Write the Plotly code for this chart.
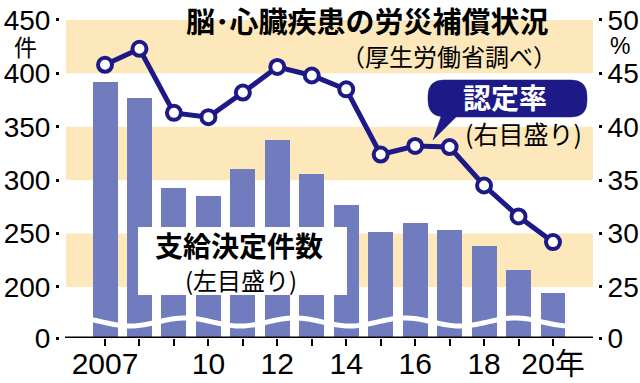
import numpy as np
import plotly.graph_objects as go

# ---------------- data ----------------
years = list(range(2007, 2021))
payments = [392, 377, 293, 285, 310, 338, 306, 277, 251, 260, 253, 238, 216, 194]      # 支給決定件数 (left)
rates = [45.8, 47.3, 41.3, 40.9, 43.2, 45.6, 44.8, 43.5, 37.4, 38.2, 38.1, 34.5, 31.6, 29.2]  # 認定率 % (right)
x_tick_labels = ["2007", "", "", "10", "", "12", "", "14", "", "16", "", "18", "", "20年"]
left_ticks = [0, 200, 250, 300, 350, 400, 450]
right_ticks = [0, 25, 30, 35, 40, 45, 50]
band_ranges = [(200, 250), (300, 350), (400, 450)]

# ---------------- layout geometry ----------------
W, H = 640, 383
ML, MR, MT, MB = 60, 42, 0, 45
PW, PH = W - ML - MR, H - MT - MB
ZERO_POS = 152.2          # where the broken axis draws "0"
PX_PER_UNIT = 1.068
Y_TOP = ZERO_POS + PH / PX_PER_UNIT
X_MIN, X_MAX = 2005.694, 2021.306


def lpos(v):
    return ZERO_POS if v == 0 else v


def rpos(r):
    return ZERO_POS / 10 + 5 if r == 0 else r


def px_x(x):
    return (x - ML) / PW


def px_y(y):
    return (MT + PH - y) / PH


def px_d(y):
    return ZERO_POS + (MT + PH - y) / PX_PER_UNIT


NAVY = "#1d1a88"
BAR = "#707cbe"
BAND = "#fce8ba"
JP = "Noto Sans CJK JP"
NUM = "Liberation Sans, Noto Sans CJK JP"

fig = go.Figure()

fig.add_trace(go.Bar(
    x=years, y=[v - ZERO_POS for v in payments], base=ZERO_POS,
    marker=dict(color=BAR, line=dict(width=0)), width=0.725,
    yaxis="y", hoverinfo="skip", showlegend=False))

fig.add_trace(go.Scatter(
    x=years, y=rates, yaxis="y2", mode="lines+markers",
    line=dict(color=NAVY, width=5),
    marker=dict(symbol="circle", size=14, color="white", line=dict(color=NAVY, width=4)),
    hoverinfo="skip", showlegend=False))

shapes = []
# horizontal bands
for lo, hi in band_ranges:
    shapes.append(dict(type="rect", xref="paper", yref="y", x0=px_x(66), x1=px_x(593),
                       y0=lo, y1=hi, fillcolor=BAND, line=dict(width=0), layer="below"))

# wavy break across the bars
wx = np.arange(66, 594, 2.0)
wy = 322 + 4 * np.cos(2 * np.pi * (wx - 130) / 110)
path = "M " + " L ".join(f"{px_x(a):.5f},{px_d(b):.3f}" for a, b in zip(wx, wy))
shapes.append(dict(type="path", xref="paper", yref="y", path=path,
                   line=dict(color="white", width=5), layer="above"))

# baseline
shapes.append(dict(type="line", xref="paper", yref="y", x0=px_x(65), x1=px_x(593),
                   y0=ZERO_POS, y1=ZERO_POS, line=dict(color="black", width=3), layer="above"))

# white label box for bars
shapes.append(dict(type="rect", xref="paper", yref="paper", x0=px_x(138), x1=px_x(347),
                   y0=px_y(295), y1=px_y(227), fillcolor="white", line=dict(width=0), layer="above"))

# callout for 認定率
pts = [("M", 444, 80), ("L", 571, 80), ("Q", 587, 80, 587, 96), ("L", 587, 101),
       ("Q", 587, 117, 571, 117), ("L", 456, 117), ("L", 433, 140), ("L", 441, 116.5),
       ("Q", 428, 115, 428, 100), ("L", 428, 96), ("Q", 428, 80, 444, 80)]
segs = []
for p in pts:
    cmd = p[0]
    coords = p[1:]
    cs = []
    for i in range(0, len(coords), 2):
        cs.append(f"{px_x(coords[i]):.5f},{px_y(coords[i+1]):.5f}")
    segs.append(cmd + " " + " ".join(cs))
shapes.append(dict(type="path", xref="paper", yref="paper", path=" ".join(segs) + " Z",
                   fillcolor=NAVY, line=dict(color=NAVY, width=0.5), layer="above"))

annotations = []


def ann(text, x, y, size, color="black", weight="normal", family=JP):
    annotations.append(dict(text=text, x=px_x(x), y=px_y(y), xref="paper", yref="paper",
                            xanchor="center", yanchor="middle", showarrow=False,
                            font=dict(family=family, size=size, color=color, weight=weight)))


ann("脳･心臓疾患の労災補償状況", 367, 20, 29, weight="bold")
ann("（厚生労働省調べ）", 449, 56, 24)
ann("認定率", 505, 97.5, 28, color="white", weight="bold")
ann("(右目盛り)", 523, 133, 25)
ann("支給決定件数", 239, 244.5, 28, weight="bold")
ann("(左目盛り)", 241, 279, 24)
ann("件", 25, 46, 23)
ann("%", 620, 46, 23, family=NUM)

fig.update_layout(
    width=W, height=H, margin=dict(l=ML, r=MR, t=MT, b=MB, autoexpand=False),
    plot_bgcolor="white", paper_bgcolor="white",
    shapes=shapes, annotations=annotations, bargap=0,
    xaxis=dict(range=[X_MIN, X_MAX], tickvals=years, ticktext=x_tick_labels,
               ticks="outside", ticklen=7, tickwidth=2, tickcolor="black",
               showgrid=False, zeroline=False, showline=False,
               tickfont=dict(family=NUM, size=30, color="black")),
    yaxis=dict(range=[ZERO_POS, Y_TOP], tickvals=[lpos(v) for v in left_ticks],
               ticktext=[str(v) for v in left_ticks],
               ticks="outside", ticklen=3, tickwidth=3, tickcolor="black",
               showgrid=False, zeroline=False, showline=False,
               tickfont=dict(family=NUM, size=28, color="black")),
    yaxis2=dict(range=[ZERO_POS / 10 + 5, Y_TOP / 10 + 5], overlaying="y", side="right",
                tickvals=[rpos(v) for v in right_ticks], ticktext=[str(v) for v in right_ticks],
                ticks="outside", ticklen=3, tickwidth=3, tickcolor="black",
                showgrid=False, zeroline=False, showline=False,
                tickfont=dict(family=NUM, size=28, color="black")),
)

try:
    fig.update_xaxes(ticklabelstandoff=-8)
except Exception:
    # fallback: draw the year labels as annotations positioned on the x scale
    fig.update_xaxes(showticklabels=False)
    for yr, lab in zip(years, x_tick_labels):
        if lab:
            fig.add_annotation(text=lab, x=yr, xref="x", y=px_y(360.5), yref="paper",
                               xanchor="center", yanchor="middle", showarrow=False,
                               font=dict(family=NUM, size=30, color="black"))

fig.write_html("out.html", config={"displayModeBar": False},
               post_script="document.body.style.margin='0';")
